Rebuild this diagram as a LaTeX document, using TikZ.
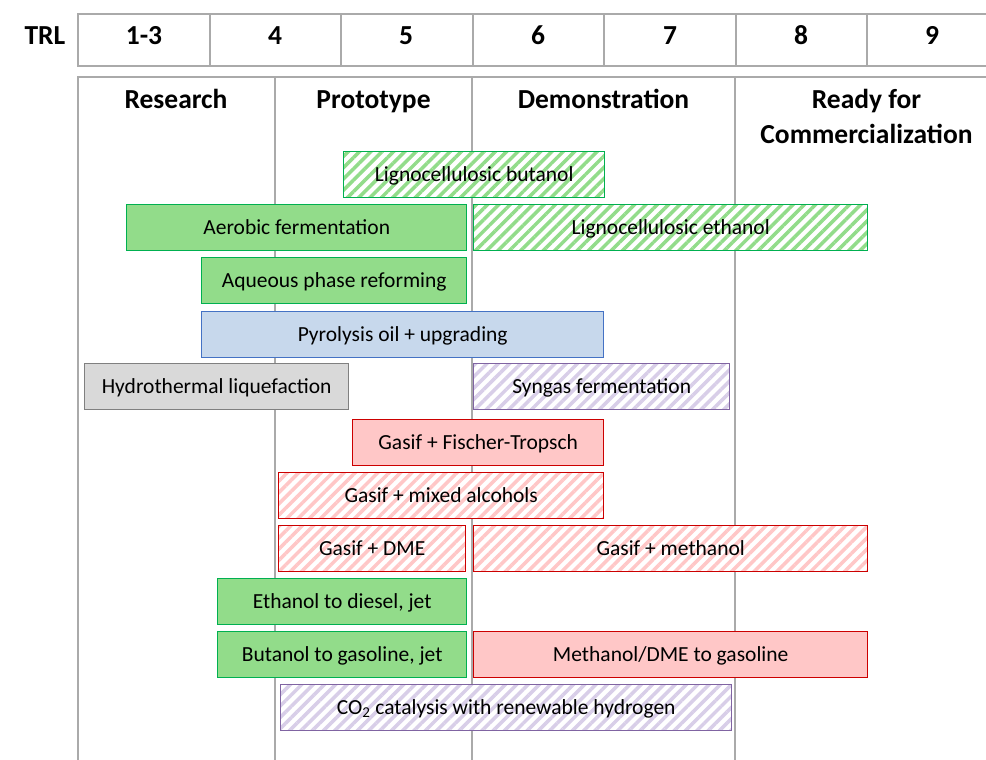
\documentclass[tikz,border=0pt]{standalone}
\usepackage{fontspec}
\setmainfont{Carlito}
\usetikzlibrary{patterns.meta}
\definecolor{gfill}{RGB}{146,220,138}
\definecolor{gline}{RGB}{0,176,80}
\definecolor{bfill}{RGB}{199,216,236}
\definecolor{bline}{RGB}{68,114,196}
\definecolor{hfill}{RGB}{217,217,217}
\definecolor{hline}{RGB}{128,128,128}
\definecolor{rfill}{RGB}{255,199,199}
\definecolor{rline}{RGB}{204,0,0}
\definecolor{pfill}{RGB}{216,206,232}
\definecolor{pline}{RGB}{128,100,162}
\definecolor{gridc}{RGB}{170,170,170}
\tikzset{
  gridline/.style={draw=gridc, line width=2pt},
  hdr/.style={font=\bfseries\fontsize{27.5}{36}\selectfont, anchor=base, inner sep=0pt},
  tbar/.style={minimum height=46pt, inner sep=0pt, anchor=north west, line width=1.4pt,
     font=\fontsize{21.5}{24}\selectfont, text height=13.5pt, text depth=0pt},
  solidbar/.style 2 args={tbar, draw=#2, fill=#1},
  hatchbar/.style 2 args={tbar, draw=#2, preaction={fill=white},
     pattern={Lines[angle=45,distance=8pt,line width=3.5pt]}, pattern color=#1},
}
\begin{document}
\begin{tikzpicture}[x=1pt,y=-1pt]
\useasboundingbox (0,0) rectangle (986,760);
\clip (0,0) rectangle (986,760);
% header
\draw[gridline] (78,14) rectangle (1010,66);
\foreach \xx in {209.5,341,472.5,604,735.5,867} \draw[gridline] (\xx,14) -- (\xx,66);
\node[hdr] (trl) at (45,45) {TRL};
\node[hdr] (t13) at (144,45) {1-3};
\node[hdr] (t4) at (275,45) {4};
\node[hdr] (t5) at (406,45) {5};
\node[hdr] (t6) at (538,45) {6};
\node[hdr] (t7) at (670,45) {7};
\node[hdr] (t8) at (801,45) {8};
\node[hdr] (t9) at (932,45) {9};
% phases
\draw[gridline] (78,760) -- (78,77) -- (1010,77);
\foreach \xx in {275,472,735} \draw[gridline] (\xx,77) -- (\xx,760);
\node[hdr] (ph1) at (176,108) {Research};
\node[hdr] (ph2) at (373.5,108) {Prototype};
\node[hdr] (ph3) at (603.5,108) {Demonstration};
\node[hdr] (ph4a) at (866.5,108) {Ready for};
\node[hdr] (ph4b) at (866.5,143) {Commercialization};
% bars
\node[hatchbar={gfill}{gline}, minimum width=261pt] (lbut) at (342,150) {Lignocellulosic butanol};
\node[solidbar={gfill}{gline}, minimum width=340pt] (aer) at (126,204) {Aerobic fermentation};
\node[hatchbar={gfill}{gline}, minimum width=394pt] (leth) at (473,204) {Lignocellulosic ethanol};
\node[solidbar={gfill}{gline}, minimum width=265pt] (aq) at (201,257) {Aqueous phase reforming};
\node[solidbar={bfill}{bline}, minimum width=402pt] (pyr) at (201,311) {Pyrolysis oil + upgrading};
\node[solidbar={hfill}{hline}, minimum width=264pt] (htl) at (84,363) {Hydrothermal liquefaction};
\node[hatchbar={pfill}{pline}, minimum width=256pt] (syn) at (473,363) {Syngas fermentation};
\node[solidbar={rfill}{rline}, minimum width=251pt] (ft) at (352,419) {Gasif + Fischer-Tropsch};
\node[hatchbar={rfill}{rline}, minimum width=325pt] (mix) at (278,472) {Gasif + mixed alcohols};
\node[hatchbar={rfill}{rline}, minimum width=187pt] (dme) at (278,525) {Gasif + DME};
\node[hatchbar={rfill}{rline}, minimum width=394pt] (meth) at (473,525) {Gasif + methanol};
\node[solidbar={gfill}{gline}, minimum width=249pt] (etd) at (217,578) {Ethanol to diesel, jet};
\node[solidbar={gfill}{gline}, minimum width=249pt] (btg) at (217,631) {Butanol to gasoline, jet};
\node[solidbar={rfill}{rline}, minimum width=394pt] (mtg) at (473,631) {Methanol/DME to gasoline};
\node[hatchbar={pfill}{pline}, minimum width=451pt] (co2) at (280,684) {CO\textsubscript{2} catalysis with renewable hydrogen};
\end{tikzpicture}
\end{document}
